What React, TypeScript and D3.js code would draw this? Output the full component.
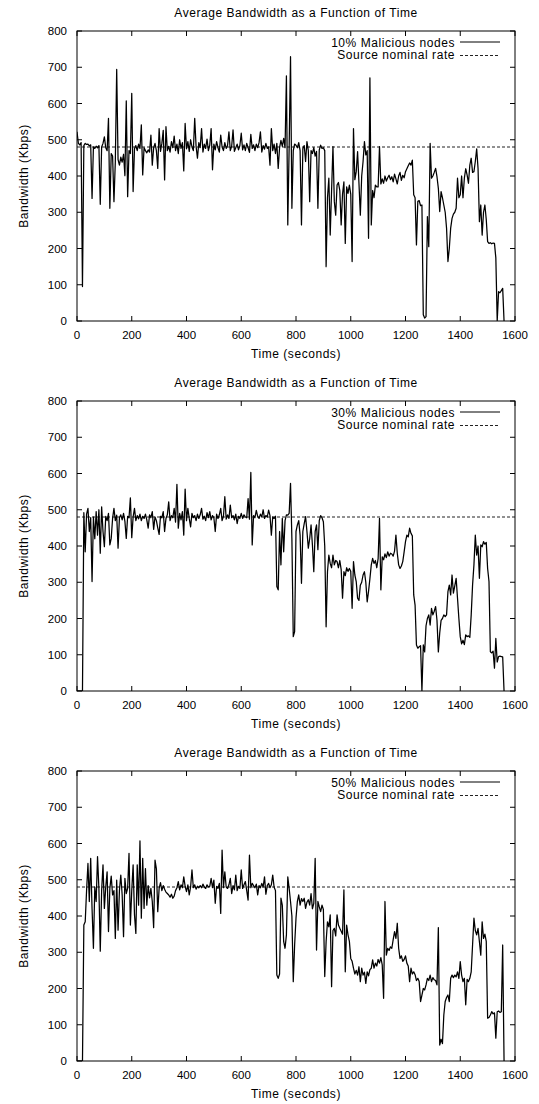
import React from 'react';
import * as d3 from 'd3';

// ---- data (sampled every STEP seconds, values in Kbps) ----
const STEP = 5;
const X_TICKS = [0, 200, 400, 600, 800, 1000, 1200, 1400, 1600];
const Y_TICKS = [0, 100, 200, 300, 400, 500, 600, 700, 800];
const NOMINAL_RATE = 480;
const TITLE = 'Average Bandwidth as a Function of Time';
const X_LABEL = 'Time (seconds)';
const Y_LABEL = 'Bandwidth (Kbps)';
const NOMINAL_LABEL = 'Source nominal rate';
const SERIES_LABELS = ['10% Malicious nodes', '30% Malicious nodes', '50% Malicious nodes'];

const bw10 = [
  522,490,486,492,95,484,490,487,488,483,
  486,338,480,476,482,478,484,322,480,490,
  508,478,470,559,311,462,455,329,440,694,
  445,430,452,438,460,401,607,343,470,462,
  628,357,475,484,470,488,476,541,403,478,
  470,464,472,466,513,430,478,490,470,421,
  531,468,490,526,389,536,470,482,466,495,
  478,510,470,488,462,500,476,492,414,545,
  475,495,468,500,480,470,559,482,449,492,
  478,531,466,488,476,502,470,485,531,417,
  488,472,495,478,466,513,480,470,492,476,
  484,522,470,482,527,468,478,488,472,484,
  518,472,486,470,490,478,465,515,476,486,
  470,488,478,492,522,466,484,474,490,476,
  480,430,531,470,488,462,490,421,478,498,
  482,504,478,676,265,480,729,311,470,488,
  485,478,492,470,265,476,484,440,495,470,
  329,470,462,478,455,468,311,472,485,476,
  478,470,150,340,394,237,360,481,330,292,
  375,382,360,265,350,384,214,370,352,375,
  350,164,531,390,412,467,380,292,400,440,
  495,458,470,228,671,265,360,340,375,370,
  370,481,378,392,380,400,386,395,402,390,
  398,384,405,392,378,400,410,388,402,395,
  412,420,428,436,430,444,348,340,210,330,
  332,318,320,17,8,12,288,205,490,394,
  400,410,421,398,366,302,357,340,320,300,
  256,164,200,256,283,295,300,311,394,340,
  348,400,340,394,420,403,380,430,449,410,
  412,440,475,421,274,320,237,300,320,280,
  219,214,216,213,215,214,174,0,81,78,
  84,90,0
];

const bw30 = [
  0,0,0,0,0,492,384,488,504,440,
  478,302,480,420,495,430,500,380,508,440,
  398,482,470,490,403,421,476,504,470,485,
  394,478,486,472,490,468,421,482,478,533,
  423,480,504,470,484,475,488,470,482,476,
  488,472,449,486,478,495,446,480,470,450,
  432,482,478,495,440,476,486,522,470,484,
  478,504,466,570,449,490,472,495,430,557,
  470,504,476,453,490,478,484,470,488,476,
  486,504,474,482,470,492,478,495,472,484,
  478,440,488,476,486,504,470,482,536,474,
  486,476,513,478,484,472,488,462,482,476,
  490,476,486,480,478,531,474,603,403,484,
  478,498,482,476,488,480,500,476,484,480,
  499,484,430,480,476,482,288,279,440,348,
  476,384,470,486,485,490,573,420,150,164,
  440,458,470,430,297,440,462,481,440,394,
  420,458,403,329,440,458,390,470,484,478,
  467,400,177,329,375,352,340,375,348,360,
  357,340,360,335,256,329,318,340,330,338,
  330,228,357,320,302,256,250,292,300,320,
  329,300,246,275,310,348,366,352,360,340,
  365,476,279,370,362,378,368,384,372,380,
  378,372,386,430,380,348,338,345,357,384,
  412,430,425,449,435,428,265,237,127,118,
  122,125,0,127,108,180,200,210,182,228,
  210,220,233,195,108,160,195,200,210,205,
  210,274,292,265,320,270,290,311,256,200,
  150,130,140,128,155,150,152,148,210,292,
  348,430,375,400,311,403,398,412,405,410,
  338,302,108,105,110,63,145,80,95,96,
  95,94,0
];

const bw50 = [
  0,0,0,0,0,375,384,470,545,440,
  559,420,311,480,440,564,476,303,470,541,
  421,480,522,357,476,510,458,470,338,499,
  361,470,513,458,343,504,462,476,573,375,
  470,541,403,352,541,430,607,394,559,421,
  531,430,484,450,476,440,368,554,530,412,
  476,492,470,484,474,466,462,458,452,460,
  449,455,470,478,495,472,486,478,508,482,
  467,486,458,480,527,478,486,474,482,478,
  484,478,488,480,476,486,480,482,504,478,
  499,435,482,476,490,407,582,478,522,480,
  476,486,504,462,484,472,513,470,482,476,
  527,476,486,495,470,444,568,478,490,484,
  478,488,458,484,478,490,480,508,460,484,
  490,478,486,513,480,470,237,228,240,449,
  430,329,311,348,508,476,440,400,219,320,
  394,440,458,430,448,440,449,421,438,445,
  430,462,420,435,559,306,440,425,412,430,
  418,233,329,384,370,403,205,360,366,345,
  403,375,366,358,350,472,246,375,348,330,
  283,275,256,240,250,237,260,219,256,237,
  245,214,246,235,252,256,279,256,270,262,
  280,270,285,265,173,440,292,311,305,315,
  311,335,357,338,380,311,283,290,275,280,
  290,270,262,219,256,240,246,238,222,228,
  219,164,182,200,196,210,228,222,237,219,
  230,224,222,210,368,44,60,48,127,164,
  175,182,164,228,237,230,237,232,246,228,
  274,237,219,228,155,225,219,228,246,320,
  394,360,348,366,329,292,384,338,350,330,
  118,120,127,136,130,133,63,136,138,134,
  136,320,0
];

const PANELS = [
  { data: bw10, label: SERIES_LABELS[0] },
  { data: bw30, label: SERIES_LABELS[1] },
  { data: bw50, label: SERIES_LABELS[2] },
];

const W = 539;
const H = 1104;
const FONT = '"Liberation Sans", Arial, Helvetica, sans-serif';
const LEFT = 77;
const RIGHT = 515;
const PLOT_H = 290;
const PANEL_GAP = 370;
const FIRST_TOP = 31;
const TICK = 5;

function Panel({ data, label, top, idx }: { data: number[]; label: string; top: number; idx: number }) {
  const bottom = top + PLOT_H;
  const x = d3.scaleLinear().domain([0, 1600]).range([LEFT, RIGHT]);
  const y = d3.scaleLinear().domain([0, 800]).range([bottom, top]);
  const line = d3
    .line<number>()
    .x((_, i) => x(i * STEP))
    .y((d) => y(d));
  const clipId = `clip-${idx}`;
  const textStyle = { fontFamily: FONT, fontSize: 12, letterSpacing: '0.55px' } as React.CSSProperties;
  const tickStyle = { fontFamily: FONT, fontSize: 11.5 } as React.CSSProperties;
  return (
    <g>
      <defs>
        <clipPath id={clipId}>
          <rect x={LEFT} y={top} width={RIGHT - LEFT} height={PLOT_H} />
        </clipPath>
      </defs>
      <text x={(LEFT + RIGHT) / 2} y={top - 14} textAnchor="middle" style={textStyle} fill="#000">
        {TITLE}
      </text>
      {X_TICKS.map((t) => (
        <g key={'x' + t}>
          <line x1={x(t)} x2={x(t)} y1={bottom} y2={bottom - TICK} stroke="#000" strokeWidth={1} />
          <line x1={x(t)} x2={x(t)} y1={top} y2={top + TICK} stroke="#000" strokeWidth={1} />
          <text x={x(t)} y={bottom + 17.5} textAnchor="middle" style={tickStyle} fill="#000">
            {t}
          </text>
        </g>
      ))}
      {Y_TICKS.map((t) => (
        <g key={'y' + t}>
          <line x1={LEFT} x2={LEFT + TICK} y1={y(t)} y2={y(t)} stroke="#000" strokeWidth={1} />
          <line x1={RIGHT} x2={RIGHT - TICK} y1={y(t)} y2={y(t)} stroke="#000" strokeWidth={1} />
          <text x={LEFT - 10} y={y(t) + 4} textAnchor="end" style={tickStyle} fill="#000">
            {t}
          </text>
        </g>
      ))}
      <line
        x1={LEFT}
        x2={RIGHT}
        y1={y(NOMINAL_RATE)}
        y2={y(NOMINAL_RATE)}
        stroke="#222"
        strokeWidth={1}
        strokeDasharray="3,2"
      />
      <path
        d={line(data) || ''}
        fill="none"
        stroke="#000"
        strokeWidth={1.25}
        strokeLinejoin="round"
        clipPath={`url(#${clipId})`}
      />
      <text x={455} y={top + 15.5} textAnchor="end" style={textStyle} fill="#000">
        {label}
      </text>
      <line x1={460} x2={500} y1={top + 11} y2={top + 11} stroke="#000" strokeWidth={1} />
      <text x={455} y={top + 28.2} textAnchor="end" style={textStyle} fill="#000">
        {NOMINAL_LABEL}
      </text>
      <line x1={460} x2={500} y1={top + 24.5} y2={top + 24.5} stroke="#222" strokeWidth={1} strokeDasharray="3,2" />
      <rect x={LEFT} y={top} width={RIGHT - LEFT} height={PLOT_H} fill="none" stroke="#000" strokeWidth={1} />
      <text x={(LEFT + RIGHT) / 2} y={bottom + 37} textAnchor="middle" style={textStyle} fill="#000">
        {X_LABEL}
      </text>
      <text
        transform={`translate(28, ${top + PLOT_H / 2}) rotate(-90)`}
        textAnchor="middle"
        style={textStyle}
        fill="#000"
      >
        {Y_LABEL}
      </text>
    </g>
  );
}

export default function App() {
  return (
    <svg
      width={W}
      height={H}
      viewBox={`0 0 ${W} ${H}`}
      style={{ position: 'absolute', left: 0, top: 0, background: '#fff' }}
    >
      <rect x={0} y={0} width={W} height={H} fill="#fff" />
      {PANELS.map((p, i) => (
        <Panel key={i} idx={i} data={p.data} label={p.label} top={FIRST_TOP + i * PANEL_GAP} />
      ))}
    </svg>
  );
}
